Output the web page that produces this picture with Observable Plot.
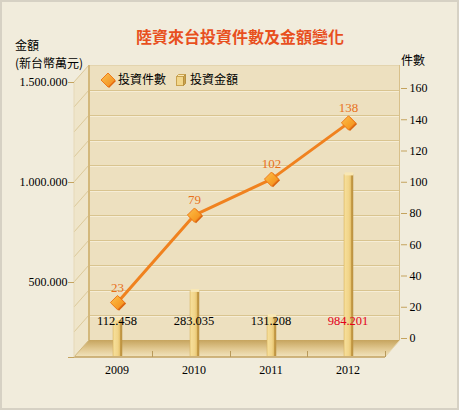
<!DOCTYPE html>
<html><head><meta charset="utf-8">
<script src="https://cdn.jsdelivr.net/npm/d3@7"></script>
<script src="https://cdn.jsdelivr.net/npm/@observablehq/plot@0.6"></script>
<style>
body{margin:0;background:#F1ECDC;}
#wrap{position:relative;width:459px;height:410px;background:#F1ECDC;overflow:hidden;font-family:"Noto Sans CJK TC","Noto Sans CJK SC",sans-serif;}
#wrap:after{content:"";position:absolute;left:0;top:0;right:0;bottom:0;box-shadow:inset 0 0 0 2px #D6D1C4;pointer-events:none;}
.t{position:absolute;white-space:nowrap;line-height:1;color:#000;}
#chart{position:absolute;left:0;top:0;}
#chart svg{overflow:visible;}
</style></head><body>
<div id="wrap">
  <div id="chart"></div>
  <div class="t" style="left:0;width:480px;text-align:center;top:28px;font-size:16px;font-weight:bold;color:#E8501E">陸資來台投資件數及金額變化</div>
  <div class="t" style="left:15px;top:36px;font-size:12px;line-height:17.6px">金額</div>
  <div class="t" style="left:15px;top:53.6px;font-size:12px;line-height:17.6px">(新台幣萬元)</div>
  <div class="t" style="left:401px;top:54px;font-size:12px">件數</div>
  <svg class="t" style="left:100px;top:72px" width="16" height="17">
    <defs><linearGradient id="lg1" x1="0" y1="0" x2="1" y2="1"><stop offset="0" stop-color="#FCC150"/><stop offset="1" stop-color="#F08A1C"/></linearGradient></defs>
    <path d="M8,1 L15,8 L8,15 L1,8Z" fill="#E06A10" transform="translate(1,1)"/>
    <path d="M8,1 L15,8 L8,15 L1,8Z" fill="url(#lg1)" stroke="#EE7B1A"/>
  </svg>
  <div class="t" style="left:118px;top:73px;font-size:12px">投資件數</div>
  <svg class="t" style="left:176px;top:74px" width="11" height="12">
    <rect x="0.5" y="2.5" width="7" height="9" fill="#F2D68A" stroke="#C9A24F"/>
    <path d="M0.5,2.5 L2.5,0.5 L9.5,0.5 L7.5,2.5Z" fill="#F8E7B4" stroke="#C9A24F"/>
    <path d="M7.5,2.5 L9.5,0.5 L9.5,9.5 L7.5,11.5Z" fill="#C9A24F" stroke="#B8913F"/>
  </svg>
  <div class="t" style="left:190px;top:73px;font-size:12px">投資金額</div>
</div>
<script>
// ---- data ----
const years = ["2009", "2010", "2011", "2012"];
const counts = [23, 79, 102, 138];            // 投資件數
const amounts = [112458, 283035, 131208, 984201]; // 投資金額 (萬元)
const highlightYear = "2012";
const countTicks = [0, 20, 40, 60, 80, 100, 120, 140, 160];
const amountTicks = [125000, 500000, 1000000, 1500000];
const amountGrid = [250000, 375000, 500000, 625000, 750000, 875000, 1000000, 1125000, 1250000, 1375000, 1500000];

const data = years.map((year, i) => ({year, count: counts[i], amount: amounts[i]}));

// ---- layout ----
const W = 459, H = 410;
const M = {top: 65, right: 59, bottom: 53, left: 74};
const dX = 15, dY = 17;                 // 3D depth offset
const floorFront = H - M.bottom;        // 357
const floorBack = floorFront - dY;      // 340
const backRight = W - M.right;          // 400
const frontRight = backRight - dX;      // 385
const yRange = [338, 88];
const xRange = [M.left, frontRight];
const amountPerCount = 9400;            // bar scale (amount -> count units)

const yPix = d3.scaleLinear([0, 160], yRange);
const amtFront = d3.scaleLinear([125000, 1500000], [floorFront, M.top + dY]);
const xBand = d3.scaleBand(years, xRange).padding(0);

const fmtAmt = d => d3.format(",")(d).replace(/,/g, ".");
const leftTickCounts = amountTicks.map(v => yPix.invert(amtFront(v)));
const leftLabel = new Map(leftTickCounts.map((c, i) => [c, amountTicks[i] === 125000 ? "" : fmtAmt(amountTicks[i])]));

function decor() {
  const g = d3.create("svg:g");
  const defs = g.append("defs");
  const fg = defs.append("linearGradient").attr("id", "floorGrad")
    .attr("gradientUnits", "userSpaceOnUse").attr("x1", 0).attr("x2", 0).attr("y1", floorBack).attr("y2", floorFront);
  [[0, "#C6A45E"], [0.5, "#E0C78F"], [1, "#F2E4BF"]].forEach(([o, c]) => fg.append("stop").attr("offset", o).attr("stop-color", c));
  const bg = defs.append("linearGradient").attr("id", "barGrad").attr("x1", 0).attr("x2", 1).attr("y1", 0).attr("y2", 0);
  [[0, "#D6B05C"], [0.12, "#F6DE98"], [0.55, "#F1D489"], [0.72, "#E6C470"], [0.76, "#C89E4A"], [1, "#BA903E"]]
    .forEach(([o, c]) => bg.append("stop").attr("offset", o).attr("stop-color", c));
  const dg = defs.append("linearGradient").attr("id", "dGrad").attr("x1", 0).attr("x2", 1).attr("y1", 0).attr("y2", 1);
  [[0, "#FCC150"], [0.55, "#F8A22A"], [1, "#F08A1C"]].forEach(([o, c]) => dg.append("stop").attr("offset", o).attr("stop-color", c));

  const L = M.left, BL = M.left + dX;
  // left wall
  g.append("path").attr("d", `M${L},${M.top + dY}L${BL},${M.top}L${BL},${floorBack}L${L},${floorFront}Z`).attr("fill", "#EFE5CA");
  // back wall
  g.append("rect").attr("x", BL).attr("y", M.top).attr("width", backRight - BL).attr("height", floorBack - M.top).attr("fill", "#EDE0BF");
  // grid
  amountGrid.forEach(v => {
    const yf = amtFront(v), yb = yf - dY;
    g.append("line").attr("x1", L).attr("y1", yf).attr("x2", BL).attr("y2", yb).attr("stroke", "#DCC99A");
    if (v < 1500000) {
      g.append("line").attr("x1", BL).attr("x2", backRight).attr("y1", yb + 0.5).attr("y2", yb + 0.5).attr("stroke", "#D9C48F");
      g.append("line").attr("x1", BL).attr("x2", backRight).attr("y1", yb + 1.5).attr("y2", yb + 1.5).attr("stroke", "#F6EDD6");
    }
  });
  g.append("line").attr("x1", BL).attr("x2", backRight).attr("y1", M.top + 0.5).attr("y2", M.top + 0.5).attr("stroke", "#E3D4AE");
  // floor
  g.append("path").attr("d", `M${L},${floorFront}L${frontRight},${floorFront}L${backRight},${floorBack}L${BL},${floorBack}Z`).attr("fill", "url(#floorGrad)");
  g.append("line").attr("x1", L).attr("x2", frontRight).attr("y1", floorFront).attr("y2", floorFront).attr("stroke", "#C2A262").attr("stroke-width", 1.5);
  g.append("line").attr("x1", frontRight).attr("y1", floorFront).attr("x2", backRight).attr("y2", floorBack).attr("stroke", "#E6D6AE");
  g.append("line").attr("x1", L).attr("y1", floorFront).attr("x2", BL).attr("y2", floorBack).attr("stroke", "#D2B87E");
  // edges
  g.append("line").attr("x1", BL).attr("x2", BL).attr("y1", M.top).attr("y2", floorBack).attr("stroke", "#D3B87C").attr("stroke-width", 2);
  g.append("line").attr("x1", backRight - 0.5).attr("x2", backRight - 0.5).attr("y1", M.top).attr("y2", floorBack).attr("stroke", "#D8C08A");
  g.append("line").attr("x1", L).attr("x2", L).attr("y1", M.top + dY).attr("y2", floorFront).attr("stroke", "#E6D9B8");
  // category separators on floor front
  years.forEach(yr => {
    const xb = Math.round(xBand(yr) + xBand.bandwidth()) + 0.5;
    g.append("line").attr("x1", xb).attr("x2", xb).attr("y1", floorFront - 6).attr("y2", floorFront).attr("stroke", "#B8995A");
  });
  return g.node();
}

const axisColor = "#C4A35E";
const chart = Plot.plot({
  width: W, height: H,
  marginTop: M.top, marginRight: M.right, marginBottom: M.bottom, marginLeft: M.left,
  style: {background: "transparent", fontFamily: "'Liberation Serif', serif", fontSize: "12px", color: "#000"},
  x: {type: "band", domain: years, range: xRange, padding: 0},
  y: {domain: [0, 160], range: yRange},
  marks: [
    decor,
    // bars (amount)
    Plot.barY(data, {x: "year", y: d => d.amount / amountPerCount, fill: "url(#barGrad)",
      insetLeft: 36.75, insetRight: 30.75, insetBottom: -18}),
    Plot.barY(data, {x: "year", y1: d => d.amount / amountPerCount, y2: d => d.amount / amountPerCount, fill: "#F8E7B4",
      insetLeft: 37.75, insetRight: 30.75, insetTop: -2, insetBottom: -1}),
    // line (count)
    Plot.line(data, {x: "year", y: "count", stroke: "#F0821F", strokeWidth: 3, dx: 2.5}),
    Plot.dot(data, {x: "year", y: "count", symbol: d3.symbolDiamond2, r: 6.4, fill: "#D9650F", stroke: "none", dx: 4, dy: 1}),
    Plot.dot(data, {x: "year", y: "count", symbol: d3.symbolDiamond2, r: 6.4, fill: "url(#dGrad)", stroke: "#EE7B1A", strokeWidth: 1, dx: 2.5}),
    Plot.text(data, {x: "year", y: "count", text: d => String(d.count), dy: -15, dx: 2.5, fill: "#E8701A", fontSize: 13}),
    // amount labels
    Plot.text(data, {x: "year", text: d => fmtAmt(d.amount), frameAnchor: "bottom", dy: -33, dx: 2,
      fill: d => d.year === highlightYear ? "#E3001B" : "#000", fontSize: 12.5}),
    // axes
    Plot.axisY(countTicks, {anchor: "right", tickSize: 6, tickPadding: 3, stroke: axisColor, fill: "#000", label: null, tickFormat: d => String(d)}),
    Plot.axisY(leftTickCounts, {anchor: "left", tickSize: 6, tickPadding: 1, stroke: axisColor, fill: "#000", label: null, tickFormat: d => leftLabel.get(d)}),
    Plot.axisX({tickSize: 0, tickPadding: 8, dx: 2, fill: "#000", label: null})
  ]
});
document.getElementById("chart").append(chart);
</script>
</body></html>
